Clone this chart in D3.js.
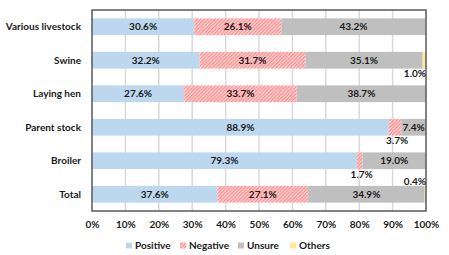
<!DOCTYPE html>
<html><head><meta charset="utf-8">
<script src="https://cdn.jsdelivr.net/npm/d3@7"></script>
<style>
html,body{margin:0;padding:0;background:#fff;}
svg{display:block;font-family:Lato,"Open Sans",sans-serif;font-weight:bold;}
</style></head>
<body><svg id="c" width="449" height="255"></svg>
<script>
const categories = ["Various livestock","Swine","Laying hen","Parent stock","Broiler","Total"];
const seriesNames = ["Positive","Negative","Unsure","Others"];
const positive = [30.6, 32.2, 27.6, 88.9, 79.3, 37.6];
const negative = [26.1, 31.7, 33.7, 3.7, 1.7, 27.1];
const unsure   = [43.2, 35.1, 38.7, 7.4, 19.0, 34.9];
const others   = [0.0, 1.0, 0.0, 0.0, 0.0, 0.4];
const xTicks = [0,10,20,30,40,50,60,70,80,90,100];

const FS = 10;
const svg = d3.select("#c");
const m = {l:92, r:23, t:10, b:44};
const W = 449, H = 255;
const x = d3.scaleLinear().domain([0,100]).range([m.l, W-m.r]);
const y = d3.scaleBand().domain(categories).range([m.t, H-m.b]).paddingInner(0.5).paddingOuter(0.25);

const defs = svg.append("defs");
const pat = defs.append("pattern").attr("id","hatch").attr("patternUnits","userSpaceOnUse")
  .attr("width",2.5).attr("height",2.5).attr("patternTransform","rotate(45)");
pat.append("rect").attr("width",2.5).attr("height",2.5).attr("fill","#ffdada");
pat.append("line").attr("x1",0.6).attr("y1",0).attr("x2",0.6).attr("y2",2.5).attr("stroke","#ff8a8a").attr("stroke-width",1.3);

const fills = ["#bdd7ee","url(#hatch)","#bfbfbf","#ffe699"];

// gridlines
svg.append("g").selectAll("line").data(xTicks.slice(1,-1)).join("line")
  .attr("x1",d=>x(d)).attr("x2",d=>x(d)).attr("y1",m.t).attr("y2",H-m.b)
  .attr("stroke","#d9d9d9").attr("stroke-width",1.5);

const rows = categories.map((c,i)=>({cat:c, Positive:positive[i], Negative:negative[i], Unsure:unsure[i], Others:others[i]}));
const stack = d3.stack().keys(seriesNames)(rows);

const g = svg.append("g");
stack.forEach((s,k)=>{
  g.append("g").selectAll("rect").data(s).join("rect")
    .attr("x",d=>x(d[0])).attr("width",d=>Math.max(0,x(d[1])-x(d[0])))
    .attr("y",d=>y(d.data.cat)).attr("height",y.bandwidth())
    .attr("fill",fills[k]);
});

// plot frame
svg.append("rect").attr("x",m.l).attr("y",m.t).attr("width",W-m.r-m.l).attr("height",H-m.b-m.t)
  .attr("fill","none").attr("stroke","#595959").attr("stroke-width",1.5);

// labels
const lab = svg.append("g").attr("font-size",FS).attr("fill","#1a1a1a");
stack.forEach((s,k)=>{
  s.forEach((d)=>{
    const v = d[1]-d[0];
    if (v<=0) return;
    const cy = y(d.data.cat)+y.bandwidth()/2;
    const txt = v.toFixed(1)+"%";
    if (v >= 5) {
      lab.append("text").attr("x",(x(d[0])+x(d[1]))/2).attr("y",cy).attr("dy","0.36em")
        .attr("text-anchor","middle").text(txt);
    } else if (k===3) {
      const above = d.data.cat==="Total";
      lab.append("text").attr("x",x(100)).attr("y", above ? y(d.data.cat)-4 : y(d.data.cat)+y.bandwidth()+5)
        .attr("dy","0.36em").attr("text-anchor","end").text(txt);
    } else {
      lab.append("text").attr("x",(x(d[0])+x(d[1]))/2+2).attr("y",y(d.data.cat)+y.bandwidth()+5)
        .attr("dy","0.36em").attr("text-anchor","middle").text(txt);
    }
  });
});

// y axis labels
svg.append("g").attr("font-size",FS).attr("fill","#1a1a1a").selectAll("text").data(categories).join("text")
  .attr("x",m.l-11).attr("y",d=>y(d)+y.bandwidth()/2).attr("dy","0.36em").attr("text-anchor","end").text(d=>d);

// x axis
const xa = svg.append("g").attr("transform",`translate(0,${H-m.b})`)
  .call(d3.axisBottom(x).tickValues(xTicks).tickFormat(d=>d+"%").tickSize(0).tickPadding(10));
xa.select(".domain").remove();
xa.selectAll("text").attr("font-size",FS).attr("font-family","Lato,'Open Sans',sans-serif").attr("font-weight","bold").attr("fill","#1a1a1a");

// legend
const legX = [126, 180, 238, 290];
const leg = svg.append("g").attr("font-size",FS).attr("fill","#1a1a1a");
seriesNames.forEach((n,i)=>{
  leg.append("rect").attr("x",legX[i]).attr("y",242.5).attr("width",6).attr("height",6).attr("fill",fills[i]);
  leg.append("text").attr("x",legX[i]+9).attr("y",245.5).attr("dy","0.36em").text(n);
});
</script></body></html>
